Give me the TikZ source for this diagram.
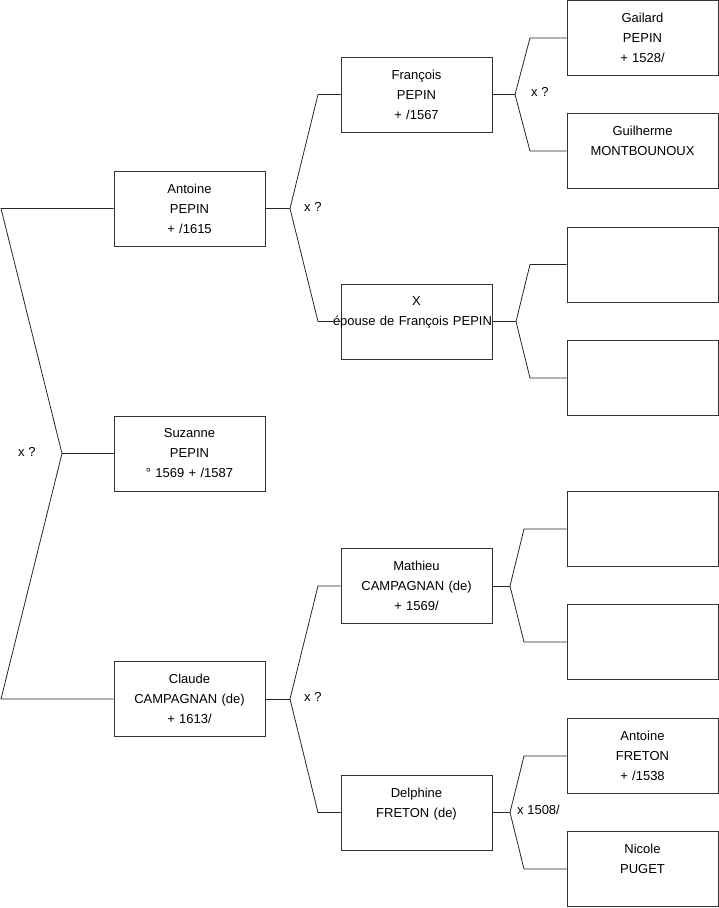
\documentclass[tikz,border=0pt]{standalone}
\usepackage{fontspec}
\setmainfont{Liberation Sans}
\usetikzlibrary{positioning}

\begin{document}
\begin{tikzpicture}[x=1pt,y=-1pt,every node/.style={font=\fontsize{13}{20}\selectfont}]
      \tikzstyle{p}  =[draw=black!80,line width=0.8pt,minimum width=151pt,minimum height=75pt,
                       inner sep=0pt,align=center,text width=151pt];
      \tikzstyle{lnk}=[draw=black!85,line width=0.8pt];
      \tikzstyle{mar}=[anchor=west,inner sep=0pt];
      \useasboundingbox (0,0) rectangle (719,908);
      % first generation
      \node[p] (antoine) at (189.5,208.5) {Antoine\\PEPIN\\+ /1615};
      \node[p] (suzanne) at (189.5,453.5) {Suzanne\\PEPIN\\° 1569 + /1587};
      \node[p] (claude)  at (189.5,699)   {Claude\\CAMPAGNAN (de)\\+ 1613/};
      % second generation
      \node[p] (francois) at (416.5,94.5)  {François\\PEPIN\\+ /1567};
      \node[p] (xepouse)  at (416.5,321.5) {X\\\makebox[\linewidth]{\hspace{-8pt}épouse de François PEPIN}\\~};
      \node[p] (mathieu)  at (416.5,586)   {Mathieu\\CAMPAGNAN (de)\\+ 1569/};
      \node[p] (delphine) at (416.5,812.5) {Delphine\\FRETON (de)\\~};
      % third generation
      \node[p] (gailard)   at (642.5,38)    {Gailard\\PEPIN\\+ 1528/};
      \node[p] (guilherme) at (642.5,151)   {Guilherme\\MONTBOUNOUX\\~};
      \node[p] (vide1)     at (642.5,264.5) {};
      \node[p] (vide2)     at (642.5,378)   {};
      \node[p] (vide3)     at (642.5,529)   {};
      \node[p] (vide4)     at (642.5,642)   {};
      \node[p] (afreton)   at (642.5,756)   {Antoine\\FRETON\\+ /1538};
      \node[p] (nicole)    at (642.5,869)   {Nicole\\PUGET\\~};
      % forks
      \coordinate (r0) at (62,453.5);  \coordinate (r1) at (1,208.5);   \coordinate (r2) at (1,699);
      \coordinate (a0) at (290,208.5); \coordinate (a1) at (318,94.5);  \coordinate (a2) at (318,321.5);
      \coordinate (c0) at (290,699);   \coordinate (c1) at (318,586);   \coordinate (c2) at (318,812.5);
      \coordinate (f0) at (515,94.5);  \coordinate (f1) at (530,38);    \coordinate (f2) at (530,151);
      \coordinate (x0) at (516,321.5); \coordinate (x1) at (530,264.5); \coordinate (x2) at (530,378);
      \coordinate (m0) at (510,586);   \coordinate (m1) at (524,529);   \coordinate (m2) at (524,642);
      \coordinate (d0) at (510,812.5); \coordinate (d1) at (524,756);   \coordinate (d2) at (524,869);
      \draw[lnk] (antoine.west) -- (r1) -- (r0) -- (r2) -- (claude.west);
      \draw[lnk] (r0) -- (suzanne.west);
      \draw[lnk] (antoine.east) -- (a0);
      \draw[lnk] (francois.west) -- (a1) -- (a0) -- (a2) -- (xepouse.west);
      \draw[lnk] (claude.east) -- (c0);
      \draw[lnk] (mathieu.west) -- (c1) -- (c0) -- (c2) -- (delphine.west);
      \draw[lnk] (francois.east) -- (f0);
      \draw[lnk] (gailard.west) -- (f1) -- (f0) -- (f2) -- (guilherme.west);
      \draw[lnk] (xepouse.east) -- (x0);
      \draw[lnk] (vide1.west) -- (x1) -- (x0) -- (x2) -- (vide2.west);
      \draw[lnk] (mathieu.east) -- (m0);
      \draw[lnk] (vide3.west) -- (m1) -- (m0) -- (m2) -- (vide4.west);
      \draw[lnk] (delphine.east) -- (d0);
      \draw[lnk] (afreton.west) -- (d1) -- (d0) -- (d2) -- (nicole.west);
      % unions
      \node[mar] (ur) at (18,452)  {x ?};
      \node[mar] (ua) at (304,207) {x ?};
      \node[mar] (uf) at (531,92)  {x ?};
      \node[mar] (uc) at (304,697) {x ?};
      \node[mar] (ud) at (517,810) {x 1508/};
    \end{tikzpicture}
\end{document}
